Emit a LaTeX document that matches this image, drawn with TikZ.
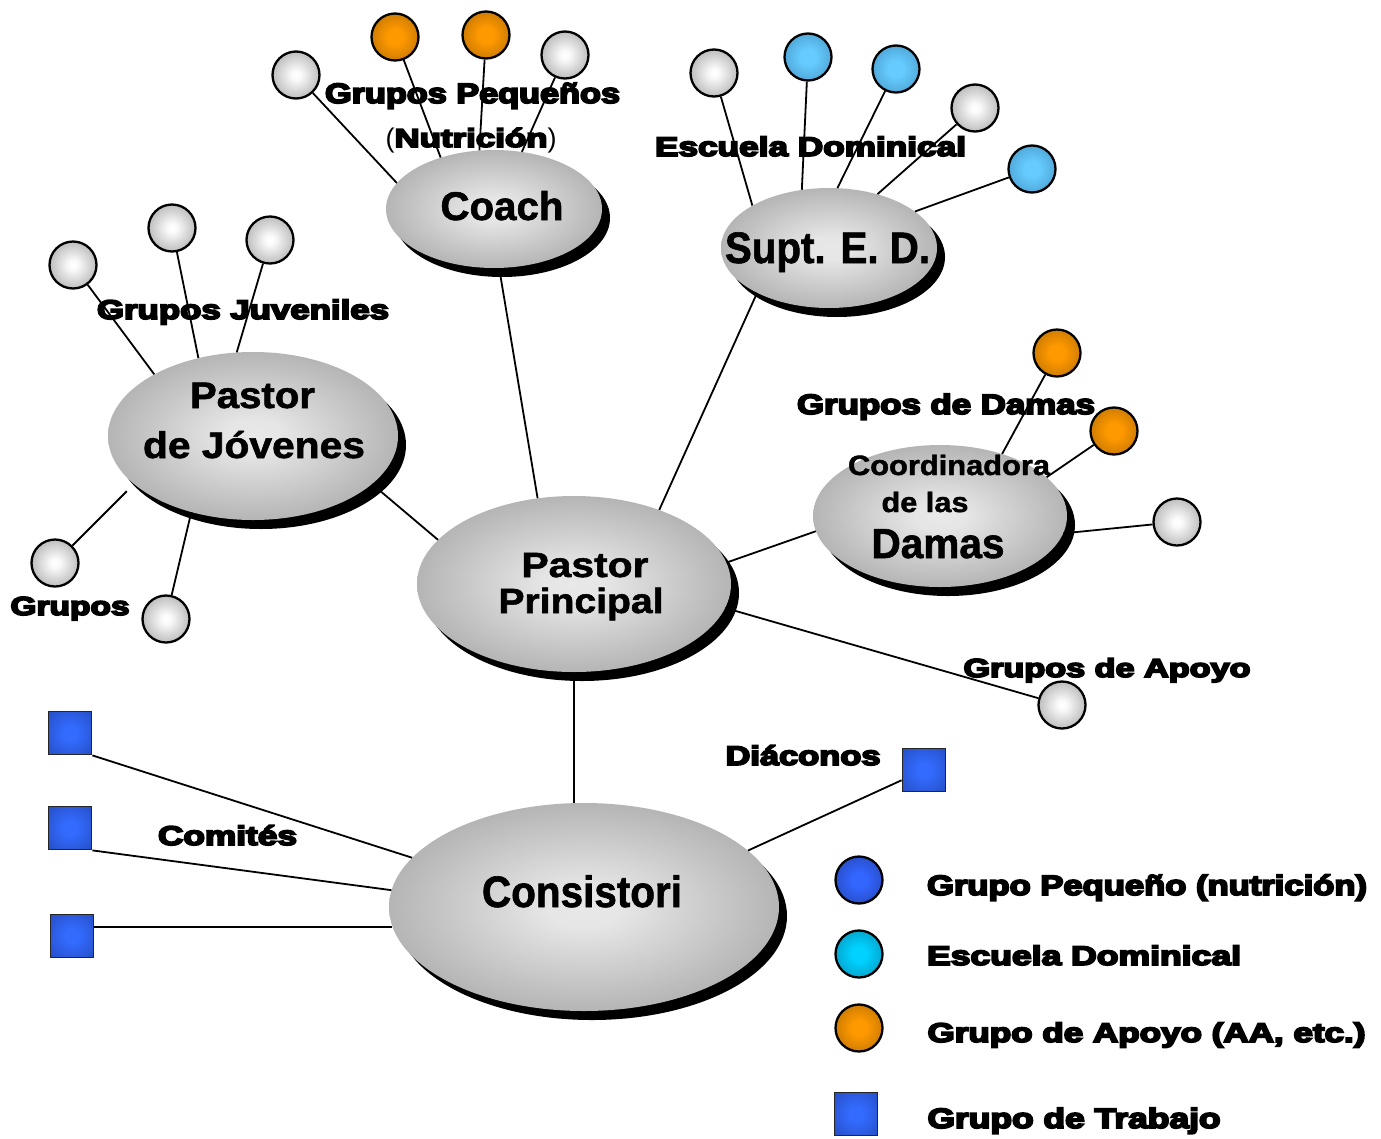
\documentclass[tikz,border=0pt]{standalone}
\usepackage{fontspec}
\usepackage{graphicx}
\usetikzlibrary{shapes.geometric}
\newfontfamily\blkfont{Liberation Sans}[BoldFeatures={FakeBold=6}]
\newfontfamily\elfont{Liberation Sans}[BoldFeatures={FakeBold=1.5}]

\pgfdeclareradialshading{grayball}{\pgfpoint{0bp}{0bp}}{rgb(0bp)=(1,1,1);rgb(5bp)=(0.98,0.98,0.98);rgb(50bp)=(0.45,0.45,0.45)}
\pgfdeclareradialshading{orangeball}{\pgfpoint{0bp}{0bp}}{rgb(0bp)=(1,0.6,0);rgb(8bp)=(1,0.6,0);rgb(50bp)=(0.55,0.33,0)}
\pgfdeclareradialshading{skyball}{\pgfpoint{0bp}{0bp}}{rgb(0bp)=(0.4,0.8,1);rgb(8bp)=(0.4,0.8,1);rgb(50bp)=(0.2,0.47,0.65)}
\pgfdeclareradialshading{cyanball}{\pgfpoint{0bp}{0bp}}{rgb(0bp)=(0,0.82,1);rgb(8bp)=(0,0.82,1);rgb(50bp)=(0.03,0.42,0.55)}
\pgfdeclareradialshading{blueball}{\pgfpoint{0bp}{0bp}}{rgb(0bp)=(0.2,0.4,1);rgb(8bp)=(0.2,0.4,1);rgb(50bp)=(0.1,0.18,0.52)}
\pgfdeclareradialshading{bluebox}{\pgfpoint{0bp}{0bp}}{rgb(0bp)=(0.2,0.42,1);rgb(8bp)=(0.2,0.42,1);rgb(50bp)=(0.12,0.25,0.66);rgb(71bp)=(0.1,0.2,0.52)}
\pgfdeclareradialshading{ellshade}{\pgfpoint{0bp}{0bp}}{rgb(0bp)=(0.91,0.91,0.91);rgb(5bp)=(0.9,0.9,0.9);rgb(26bp)=(0.7,0.7,0.7);rgb(50bp)=(0.6,0.6,0.6)}

\newcommand\lblt[3]{\resizebox{#1pt}{\height}{\blkfont\bfseries\fontsize{#2pt}{#2pt}\selectfont #3}}
\newcommand\ellt[3]{\resizebox{#1pt}{\height}{\elfont\bfseries\fontsize{#2pt}{#2pt}\selectfont #3}}

\begin{document}
\begin{tikzpicture}[x=1pt,y=-1pt,
  conn/.style={line width=1.8pt, black},
  ball/.style={circle, draw=black, line width=2.3pt, minimum size=47pt, inner sep=0pt},
  wbox/.style={rectangle, draw=black!85, line width=1.8pt, minimum size=43pt, inner sep=0pt, shading=bluebox},
  oval/.style={ellipse, inner sep=0pt, shading=ellshade, preaction={fill=black, transform canvas={xshift=8pt, yshift=-9pt}}},
  lbl/.style={anchor=base, inner sep=0pt}]
\useasboundingbox[fill=white] (0,0) rectangle (1381,1138);

% main ovals
\node[oval, minimum width=216pt, minimum height=118pt] (coach) at (494,209) {};
\node[oval, minimum width=216pt, minimum height=120pt] (supt) at (829,248) {};
\node[oval, minimum width=290pt, minimum height=168pt] (pdj) at (253,436) {};
\node[oval, minimum width=314pt, minimum height=176pt] (pp) at (574,584) {};
\node[oval, minimum width=254pt, minimum height=142pt] (damas) at (940,516) {};
\node[oval, minimum width=390pt, minimum height=208pt] (cons) at (584,907) {};

% small circles
\node[ball, shading=grayball] (cg1) at (296,75) {};
\node[ball, shading=orangeball] (co1) at (395,37) {};
\node[ball, shading=orangeball] (co2) at (486,35) {};
\node[ball, shading=grayball] (cg2) at (565,55) {};

\node[ball, shading=grayball] (sg1) at (714,73) {};
\node[ball, shading=skyball] (sb1) at (808,57) {};
\node[ball, shading=skyball] (sb2) at (896,69) {};
\node[ball, shading=grayball] (sg2) at (975,108) {};
\node[ball, shading=skyball] (sb3) at (1032,169) {};

\node[ball, shading=grayball] (jg1) at (73,265) {};
\node[ball, shading=grayball] (jg2) at (172,228) {};
\node[ball, shading=grayball] (jg3) at (270,240) {};
\node[ball, shading=grayball] (jg4) at (55,563) {};
\node[ball, shading=grayball] (jg5) at (166,619) {};

\node[ball, shading=orangeball] (do1) at (1057,353) {};
\node[ball, shading=orangeball] (do2) at (1114,431) {};
\node[ball, shading=grayball] (dg1) at (1177,522) {};

\node[ball, shading=grayball] (ag) at (1062,705) {};

% squares
\node[wbox] (q1) at (70,733) {};
\node[wbox] (q2) at (70,828) {};
\node[wbox] (q3) at (72,936) {};
\node[wbox] (q4) at (924,770) {};

% legend shapes
\node[ball, shading=blueball] (lb) at (859,880) {};
\node[ball, shading=cyanball] (lc) at (859,954) {};
\node[ball, shading=orangeball] (lo) at (859,1028) {};
\node[wbox] (lq) at (856,1114) {};

% connectors
\draw[conn] (cg1) -- (coach.165);
\draw[conn] (co1) -- (coach.136);
\draw[conn] (co2) -- (coach.104);
\draw[conn] (cg2) -- (coach.64);
\draw[conn] (coach.275) -- (pp.113);

\draw[conn] (sg1) -- (supt.151);
\draw[conn] (sb1) -- (supt.115);
\draw[conn] (sb2) -- (supt.82);
\draw[conn] (sg2) -- (supt.48);
\draw[conn] (sb3) -- (supt.23);
\draw[conn] (supt.212) -- (pp.41);

\draw[conn] (jg1) -- (pdj.148);
\draw[conn] (jg2) -- (pdj.125);
\draw[conn] (jg3) -- (pdj.101);
\draw[conn, shorten >=10pt] (jg4) -- (pdj.202);
\draw[conn] (jg5) -- (pdj.231);
\draw[conn] (pdj.338) -- (pp.162);

\draw[conn] (do1) -- (damas.45);
\draw[conn] (do2) -- (damas.20);
\draw[conn] (dg1) -- (damas.352);
\draw[conn] (damas.187) -- (pp.8);

\draw[conn] (pp.351) -- (ag);
\draw[conn] (pp.south) -- (pp.south |- cons.north);

\draw[conn] (q1.south east) -- (cons.164);
\draw[conn] (q2.south east) -- (cons.175);
\draw[conn] (cons.186 -| q3.east) -- (cons.186);
\draw[conn] (q4) -- (cons.19);

% oval texts
\node[lbl] (tcoach) at (502,220) {\ellt{123}{40}{Coach}};
\node[lbl] (tsupt) at (827.5,263) {\ellt{205}{44}{Supt. E. D.}};
\node[lbl] (tpdj1) at (252.5,408) {\ellt{125}{37}{Pastor}};
\node[lbl] (tpdj2) at (254,458) {\ellt{222}{37}{de Jóvenes}};
\node[lbl] (tpp1) at (585,577) {\ellt{127}{35}{Pastor}};
\node[lbl] (tpp2) at (581,613) {\ellt{165}{35}{Principal}};
\node[lbl] (tdam1) at (949,475) {\ellt{202}{28}{Coordinadora}};
\node[lbl] (tdam2) at (925,512) {\ellt{87}{28}{de las}};
\node[lbl] (tdam3) at (938,558) {\ellt{133}{42}{Damas}};
\node[lbl] (tcons) at (582,907) {\ellt{200}{44}{Consistori}};

% group labels
\node[lbl] (l1) at (472.5,103) {\lblt{295}{28}{Grupos Pequeños}};
\node[lbl] (l2) at (471,147) {{\elfont\fontsize{27pt}{27pt}\selectfont (}\lblt{153}{26}{Nutrición}{\elfont\fontsize{27pt}{27pt}\selectfont )}};
\node[lbl] (l3) at (810.5,156) {\lblt{311}{27}{Escuela Dominical}};
\node[lbl] (l4) at (243,319) {\lblt{292}{27}{Grupos Juveniles}};
\node[lbl] (l5) at (70,615) {\lblt{119}{26}{Grupos}};
\node[lbl] (l6) at (946,414) {\lblt{298}{28}{Grupos de Damas}};
\node[lbl] (l7) at (1107,677) {\lblt{287}{26}{Grupos de Apoyo}};
\node[lbl] (l8) at (803,765) {\lblt{155}{27}{Diáconos}};
\node[lbl] (l9) at (227.5,845) {\lblt{139}{27}{Comités}};

% legend texts
\node[lbl] (lt1) at (1147,895) {\lblt{440}{28}{Grupo Pequeño (nutrición)}};
\node[lbl] (lt2) at (1084,965) {\lblt{314}{27}{Escuela Dominical}};
\node[lbl] (lt3) at (1146.5,1042) {\lblt{438}{27}{Grupo de Apoyo (AA, etc.)}};
\node[lbl] (lt4) at (1074,1128) {\lblt{293}{28}{Grupo de Trabajo}};
\end{tikzpicture}
\end{document}
